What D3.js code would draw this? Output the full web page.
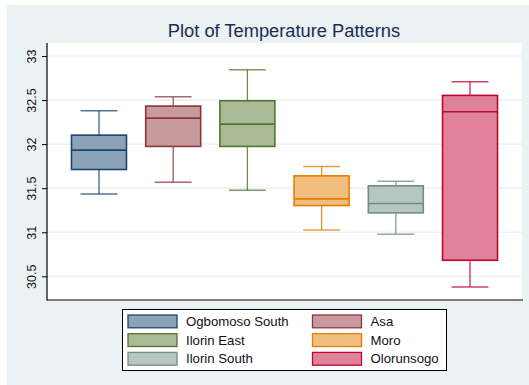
<!DOCTYPE html>
<html>
<head>
<meta charset="utf-8">
<script src="https://cdn.jsdelivr.net/npm/d3@7"></script>
<style>
  html, body { margin: 0; padding: 0; background: #ffffff; }
  svg { display: block; font-family: "Liberation Sans", Arial, sans-serif; }
</style>
</head>
<body>
<svg id="chart" width="529" height="385"></svg>
<script>
// Temperature distribution per district (box summary values)
const districts = ["Ogbomoso South", "Asa", "Ilorin East", "Moro", "Ilorin South", "Olorunsogo"];
const upperWhisker = [32.378, 32.538, 32.844, 31.746, 31.580, 32.708];
const q3Values     = [32.102, 32.432, 32.492, 31.640, 31.527, 32.553];
const medianValues = [31.932, 32.295, 32.227, 31.379, 31.326, 32.367];
const q1Values     = [31.712, 31.974, 31.974, 31.303, 31.220, 30.682];
const lowerWhisker = [31.435, 31.568, 31.477, 31.026, 30.977, 30.378];
const yTicks = [30.5, 31, 31.5, 32, 32.5, 33];
const yTickLabels = ["30.5", "31", "31.5", "32", "32.5", "33"];

const lineColors = ["#1a476f", "#90353b", "#55752f", "#e37e00", "#6e8e84", "#c10534"];
const fillColors = ["#8ca3b7", "#c79a9d", "#aaba97", "#f1be7f", "#b6c6c1", "#e08299"];

const boxes = districts.map((d, i) => ({
  name: d, hi: upperWhisker[i], q3: q3Values[i], med: medianValues[i],
  q1: q1Values[i], lo: lowerWhisker[i], stroke: lineColors[i], fill: fillColors[i]
}));

const svg = d3.select("#chart");
const W = 529, H = 385;
const plot = { left: 47, right: 522, top: 43, bottom: 300 };

// graph region background
svg.append("rect").attr("x", 7).attr("y", 5).attr("width", W - 7).attr("height", H - 5)
  .attr("fill", "#eaf2f3");
// plot region
svg.append("rect").attr("x", plot.left).attr("y", plot.top)
  .attr("width", plot.right - plot.left).attr("height", plot.bottom - plot.top)
  .attr("fill", "#ffffff");

const y = d3.scaleLinear().domain([30.5, 33]).range([276.3, 56]);
const x = d3.scaleBand().domain(districts).range([plot.left, plot.right])
  .paddingInner(0.259).paddingOuter(0.33);

// horizontal grid
svg.append("g").selectAll("line").data(yTicks).join("line")
  .attr("x1", plot.left).attr("x2", plot.right)
  .attr("y1", d => y(d)).attr("y2", d => y(d))
  .attr("stroke", "#e6eeef").attr("stroke-width", 1.2);

// title
svg.append("text").attr("x", 284).attr("y", 36.7).attr("text-anchor", "middle")
  .attr("font-size", 18.3).attr("fill", "#1c2b58").text("Plot of Temperature Patterns");

// y axis
const yAxis = d3.axisLeft(y).tickValues(yTicks)
  .tickFormat((d, i) => yTickLabels[i]).tickSize(5).tickPadding(4);
const gy = svg.append("g").attr("transform", `translate(${plot.left},0)`).call(yAxis);
gy.select(".domain").remove();
gy.selectAll(".tick line").attr("stroke", "#000").attr("stroke-width", 1);
gy.selectAll(".tick text")
  .attr("font-size", 12.5).attr("fill", "#111")
  .attr("font-family", "'Liberation Sans', Arial, sans-serif")
  .attr("transform", "rotate(-90)")
  .attr("x", 0).attr("y", -11).attr("dy", 0)
  .attr("text-anchor", "middle");

// axis lines
svg.append("line").attr("x1", plot.left).attr("x2", plot.left)
  .attr("y1", plot.top).attr("y2", plot.bottom + 0.5).attr("stroke", "#000").attr("stroke-width", 1.2);
svg.append("line").attr("x1", plot.left).attr("x2", plot.right + 1)
  .attr("y1", plot.bottom).attr("y2", plot.bottom).attr("stroke", "#000").attr("stroke-width", 1.2);

// boxes
const bw = x.bandwidth();
const capW = bw * 0.67;
const g = svg.append("g").selectAll("g").data(boxes).join("g")
  .attr("transform", d => `translate(${x(d.name) + bw / 2},0)`);

g.append("line").attr("x1", 0).attr("x2", 0)
  .attr("y1", d => y(d.hi)).attr("y2", d => y(d.q3))
  .attr("stroke", d => d.stroke).attr("stroke-width", 1.3).attr("stroke-opacity", 0.85);
g.append("line").attr("x1", 0).attr("x2", 0)
  .attr("y1", d => y(d.q1)).attr("y2", d => y(d.lo))
  .attr("stroke", d => d.stroke).attr("stroke-width", 1.3).attr("stroke-opacity", 0.85);
g.append("line").attr("x1", -capW / 2).attr("x2", capW / 2)
  .attr("y1", d => y(d.hi)).attr("y2", d => y(d.hi))
  .attr("stroke", d => d.stroke).attr("stroke-width", 1.5).attr("stroke-opacity", 0.75);
g.append("line").attr("x1", -capW / 2).attr("x2", capW / 2)
  .attr("y1", d => y(d.lo)).attr("y2", d => y(d.lo))
  .attr("stroke", d => d.stroke).attr("stroke-width", 1.5).attr("stroke-opacity", 0.75);
g.append("rect").attr("x", -bw / 2).attr("width", bw)
  .attr("y", d => y(d.q3)).attr("height", d => y(d.q1) - y(d.q3))
  .attr("fill", d => d.fill).attr("stroke", d => d.stroke).attr("stroke-width", 1.6);
g.append("line").attr("x1", -bw / 2).attr("x2", bw / 2)
  .attr("y1", d => y(d.med)).attr("y2", d => y(d.med))
  .attr("stroke", d => d.stroke).attr("stroke-width", 1.6);

// legend
const lg = svg.append("g");
lg.append("rect").attr("x", 122.5).attr("y", 309.5).attr("width", 324).attr("height", 61)
  .attr("fill", "#ffffff").attr("stroke", "#000").attr("stroke-width", 1);
const items = lg.selectAll("g").data(boxes).join("g")
  .attr("transform", (d, i) => `translate(${i % 2 === 0 ? 128 : 312.5},${315 + Math.floor(i / 2) * 18.7})`);
items.append("rect").attr("width", 49).attr("height", 12.8)
  .attr("fill", d => d.fill).attr("stroke", d => d.stroke).attr("stroke-width", 1.3);
items.append("text").attr("x", 58).attr("y", 11).attr("font-size", 13.2)
  .attr("fill", "#111").text(d => d.name);
</script>
</body>
</html>
